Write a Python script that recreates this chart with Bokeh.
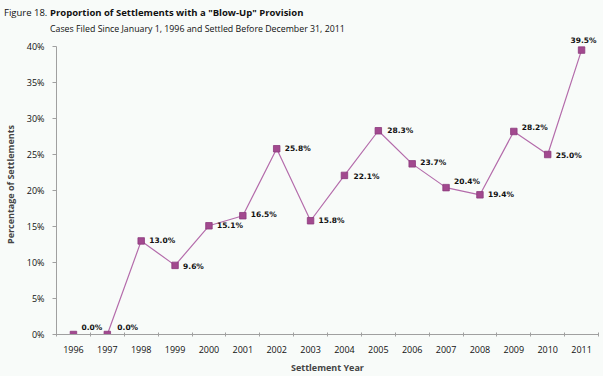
from bokeh.plotting import figure
from bokeh.layouts import column
from bokeh.models import ColumnDataSource, Range1d, FixedTicker, PrintfTickFormatter, LabelSet, Div
from bokeh.core.properties import value
from bokeh.embed import file_html
from bokeh.resources import INLINE

# ---- data ----
years = [1996, 1997, 1998, 1999, 2000, 2001, 2002, 2003,
         2004, 2005, 2006, 2007, 2008, 2009, 2010, 2011]
pct = [0.0, 0.0, 13.0, 9.6, 15.1, 16.5, 25.8, 15.8,
       22.1, 28.3, 23.7, 20.4, 19.4, 28.2, 25.0, 39.5]
pct_labels = ["0.0%", "0.0%", "13.0%", "9.6%", "15.1%", "16.5%", "25.8%", "15.8%",
              "22.1%", "28.3%", "23.7%", "20.4%", "19.4%", "28.2%", "25.0%", "39.5%"]
y_ticks = [0, 5, 10, 15, 20, 25, 30, 35, 40]

# ---- label placement (style, pixels) ----
lab_dx = [8, 10, 8, 8, 8, 8, 8, 8, 9, 9, 8, 8, 8, 8, 8, -11]
lab_dy = [7, 7, 0, -1, 0, 1, 0, 0, -1, 0, 1, 6, 0, 4, -1, 10]

BG = "#f8fbf9"
PURPLE = "#a2498f"
LINE = "#b46cab"
AXIS = "#a0a0a0"
FONT = "Open Sans"
BOLD = "DejaVu Sans"

W = 603
src = ColumnDataSource(dict(x=years, y=pct, lab=pct_labels, dx=lab_dx, dy=lab_dy))

title = Div(
    text=('<div style="line-height:15px; padding:4px 0 0 4px; '
          'font-family:\'Open Sans\'; color:#111; white-space:nowrap;">'
          '<span style="display:inline-block; width:46px; font-size:9.5px;">Figure 18.</span>'
          '<span style="font-size:9.5px; font-weight:bold;">Proportion of Settlements with a "Blow-Up" Provision</span><br>'
          '<span style="display:inline-block; width:46px;"></span>'
          '<span style="font-size:8.8px;">Cases Filed Since January 1, 1996 and Settled Before December 31, 2011</span>'
          '</div>'),
    width=W, height=34,
    styles={"background-color": BG, "margin": "0", "padding": "0", "overflow": "visible"})

p = figure(width=W, height=342,
           x_range=Range1d(1995.5, 2011.5), y_range=Range1d(0, 41.67),
           output_backend="svg", toolbar_location=None,
           min_border_left=53, min_border_right=5,
           min_border_top=0, min_border_bottom=42)

p.background_fill_color = BG
p.border_fill_color = BG
p.outline_line_color = None
p.grid.visible = False

p.line("x", "y", source=src, line_color=LINE, line_width=1.2)
p.scatter("x", "y", source=src, marker="square", size=6.5,
          fill_color=PURPLE, line_color="#8c3a7c", line_width=0.8)

labels = LabelSet(x="x", y="y", text="lab", source=src,
                  x_offset="dx", y_offset="dy",
                  text_font=value(BOLD), text_font_style="bold", text_font_size="7.5px",
                  text_color="#111111", text_align="left", text_baseline="middle")
p.add_layout(labels)

# x axis
xa = p.xaxis[0]
xa.ticker = FixedTicker(ticks=years, minor_ticks=[y - 0.5 for y in years] + [years[-1] + 0.5])
xa.major_tick_in = 0
xa.major_tick_out = 0
xa.minor_tick_in = 2
xa.minor_tick_out = 2
xa.axis_line_color = AXIS
xa.minor_tick_line_color = AXIS
xa.major_label_standoff = 9
xa.major_label_text_font = FONT
xa.major_label_text_font_size = "9px"
xa.major_label_text_color = "#111111"
xa.axis_label = "Settlement Year"
xa.axis_label_text_font = FONT
xa.axis_label_text_font_style = "bold"
xa.axis_label_text_font_size = "9px"
xa.axis_label_standoff = 5

# y axis
ya = p.yaxis[0]
ya.ticker = FixedTicker(ticks=y_ticks, minor_ticks=[])
ya.formatter = PrintfTickFormatter(format="%d%%")
ya.bounds = (0, 40)
ya.major_tick_in = 0
ya.major_tick_out = 4
ya.minor_tick_in = 0
ya.minor_tick_out = 0
ya.axis_line_color = AXIS
ya.major_tick_line_color = AXIS
ya.major_label_standoff = 8
ya.major_label_text_font = FONT
ya.major_label_text_font_size = "9px"
ya.major_label_text_color = "#111111"
ya.axis_label = "Percentage of Settlements"
ya.axis_label_text_font = FONT
ya.axis_label_text_font_style = "bold"
ya.axis_label_text_font_size = "9px"
ya.axis_label_standoff = 7

layout = column(title, p, spacing=0, styles={"background-color": BG})

open("out.html", "w").write(file_html(layout, INLINE))
